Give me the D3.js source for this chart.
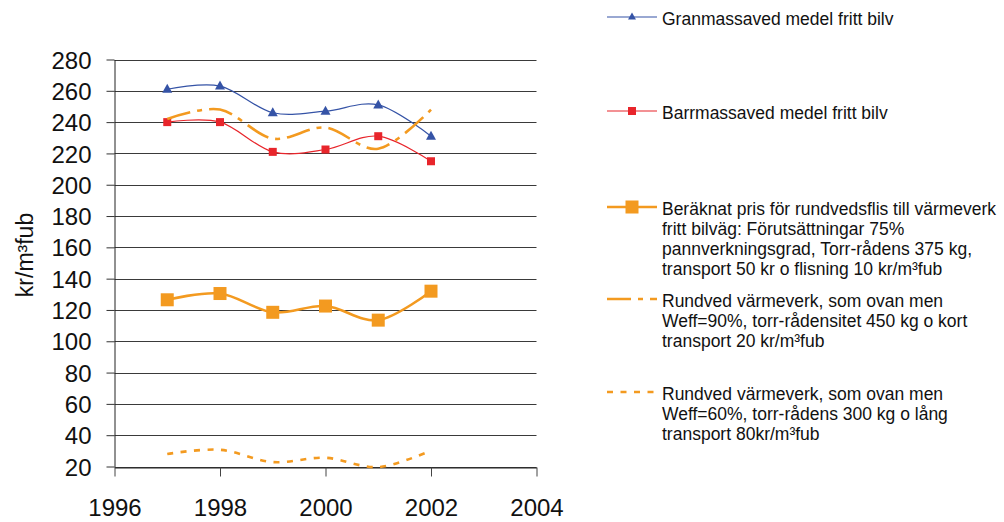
<!DOCTYPE html>
<html>
<head>
<meta charset="utf-8">
<script src="https://cdn.jsdelivr.net/npm/d3@7/dist/d3.min.js"></script>
<style>
  html, body { margin: 0; padding: 0; background: #fff; }
  svg { display: block; font-family: "Liberation Sans", Arial, sans-serif; }
</style>
</head>
<body>
<svg id="chart" width="1004" height="522"></svg>
<script>
// Years on the x axis
const years = [1997, 1998, 1999, 2000, 2001, 2002];

// Price series, kr/m³fub
const granmassaved = [261, 263, 246, 247, 251, 231];
const barrmassaved = [240, 240, 221, 222.5, 231, 215];
const rundvedsflis = [126.5, 130.5, 118.5, 122.5, 113.5, 132];
const rundvedHog = [242, 248, 229.5, 236.5, 223, 248];
const rundvedLag = [28, 30.7, 22.8, 25.6, 19.6, 30.2];

// Axis ticks
const xTicks = [1996, 1998, 2000, 2002, 2004];
const yTicks = [20, 40, 60, 80, 100, 120, 140, 160, 180, 200, 220, 240, 260, 280];

// Legend texts
const legendLabels = [
  ["Granmassaved medel fritt bilv"],
  ["Barrmassaved medel fritt bilv"],
  ["Beräknat pris för rundvedsflis till värmeverk",
   "fritt bilväg: Förutsättningar 75%",
   "pannverkningsgrad, Torr-rådens 375 kg,",
   "transport 50 kr o flisning 10 kr/m³fub"],
  ["Rundved värmeverk, som ovan men",
   "Weff=90%, torr-rådensitet 450 kg o kort",
   "transport 20 kr/m³fub"],
  ["Rundved värmeverk, som ovan men",
   "Weff=60%, torr-rådens 300 kg o lång",
   "transport 80kr/m³fub"]
];

const svg = d3.select("#chart");

const x = d3.scaleLinear().domain([1996, 2004]).range([114.5, 536.5]);
const y = d3.scaleLinear().domain([20, 280]).range([466.5, 59.5]);

// Horizontal gridlines
svg.append("g")
  .selectAll("line")
  .data(yTicks)
  .join("line")
  .attr("x1", x(1996))
  .attr("x2", x(2004))
  .attr("y1", d => Math.round(y(d)) + 0.5)
  .attr("y2", d => Math.round(y(d)) + 0.5)
  .attr("stroke", "#3a3a3a")
  .attr("stroke-width", 1);

// Y axis
const yAxis = svg.append("g")
  .attr("transform", `translate(${x(1996)},0)`)
  .call(d3.axisLeft(y).tickValues(yTicks).tickSize(8).tickSizeOuter(0));
yAxis.select(".domain").attr("stroke", "#222");
yAxis.selectAll(".tick line").attr("stroke", "#333");
yAxis.selectAll(".tick text")
  .attr("font-family", "Liberation Sans, Arial, sans-serif")
  .attr("font-size", 24)
  .attr("fill", "#111")
  .attr("x", -23)
  .attr("dy", "0.36em");

// X axis
const xAxis = svg.append("g")
  .attr("transform", `translate(0,${Math.round(y(20)) + 0.5})`)
  .call(d3.axisBottom(x).tickValues(xTicks).tickFormat(d3.format("d")).tickSize(9).tickSizeOuter(0));
xAxis.select(".domain").attr("stroke", "#222");
xAxis.selectAll(".tick line").attr("stroke", "#444");
xAxis.selectAll(".tick text")
  .attr("font-family", "Liberation Sans, Arial, sans-serif")
  .attr("font-size", 24)
  .attr("fill", "#111")
  .attr("y", 48.5)
  .attr("dy", 0);

// Y axis title
svg.append("text")
  .attr("transform", `translate(32.5,255) rotate(-90)`)
  .attr("text-anchor", "middle")
  .attr("font-size", 23)
  .attr("fill", "#111")
  .text("kr/m³fub");

const line = d3.line()
  .x((d, i) => x(years[i]))
  .y(d => y(d))
  .curve(d3.curveCardinal.tension(0));

const blue = "#3553a6";
const red = "#e8252b";
const orange = "#f39a20";

const series = [
  { values: granmassaved, color: blue, width: 1.2, dash: null, marker: "triangle", size: 10 },
  { values: barrmassaved, color: red, width: 1.2, dash: null, marker: "square", size: 8 },
  { values: rundvedsflis, color: orange, width: 2.6, dash: null, marker: "square", size: 13 },
  { values: rundvedHog, color: orange, width: 2.6, dash: "24,7,5,7", marker: null },
  { values: rundvedLag, color: orange, width: 2.6, dash: "6,7.5", marker: null }
];

function drawMarker(g, type, cx, cy, size, color) {
  if (type === "square") {
    g.append("rect")
      .attr("x", cx - size / 2).attr("y", cy - size / 2)
      .attr("width", size).attr("height", size)
      .attr("fill", color);
  } else if (type === "triangle") {
    const h = size * 0.9;
    g.append("path")
      .attr("d", `M${cx},${cy - h / 2 - 1}L${cx + size / 2},${cy + h / 2 - 1}L${cx - size / 2},${cy + h / 2 - 1}Z`)
      .attr("fill", color);
  }
}

const plot = svg.append("g");
series.forEach(s => {
  plot.append("path")
    .attr("d", line(s.values))
    .attr("fill", "none")
    .attr("stroke", s.color)
    .attr("stroke-width", s.width)
    .attr("stroke-dasharray", s.dash);
  if (s.marker) {
    s.values.forEach((v, i) => drawMarker(plot, s.marker, x(years[i]), y(v), s.size, s.color));
  }
});

// Legend
const legendY = [17, 111, 207, 299, 392];
const legendMarkerSize = [8, 8, 13, null, null];
const legendX = 662;
const legendRight = 996;
const lg = svg.append("g");
series.forEach((s, k) => {
  const ly = legendY[k];
  lg.append("line")
    .attr("x1", 607).attr("x2", 657)
    .attr("y1", ly).attr("y2", ly)
    .attr("stroke", s.color)
    .attr("stroke-width", s.width)
    .attr("stroke-dasharray", s.dash);
  if (s.marker) drawMarker(lg, s.marker, 632, ly, legendMarkerSize[k], s.color);
  legendLabels[k].forEach((txt, j) => {
    const t = lg.append("text")
      .attr("x", legendX)
      .attr("y", ly + 8 + j * 20)
      .attr("font-size", 17.5)
      .attr("fill", "#111")
      .text(txt);
    // keep long lines inside the page width
    const w = t.node().getComputedTextLength();
    if (legendX + w > legendRight) {
      t.attr("textLength", legendRight - legendX).attr("lengthAdjust", "spacingAndGlyphs");
    }
  });
});
</script>
</body>
</html>
